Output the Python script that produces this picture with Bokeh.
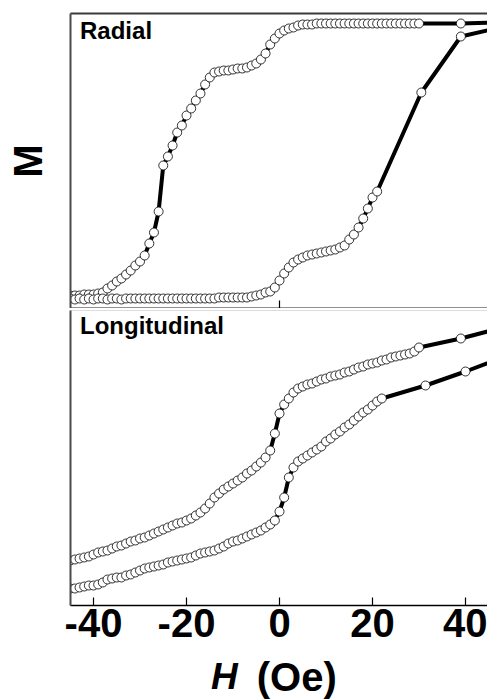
from bokeh.plotting import figure
from bokeh.layouts import column
from bokeh.models import Range1d, LinearAxis, FixedTicker, Label, CustomJSTickFormatter
from bokeh.core.properties import value
from bokeh.embed import file_html
from bokeh.resources import INLINE

# ---------------- data (M in arbitrary units, H in Oe) ----------------
H_steps = [-45, -44, -43, -42, -41, -40, -39, -38, -37, -36,
           -35, -34, -33, -32, -31, -30, -29, -28, -27, -26,
           -25, -24, -23, -22, -21, -20, -19, -18, -17, -16,
           -15, -14, -13, -12, -11, -10, -9, -8, -7, -6,
           -5, -4, -3, -2, -1, 0, 1, 2, 3, 4,
           5, 6, 7, 8, 9, 10, 11, 12, 13, 14,
           15, 16, 17, 18, 19, 20, 21, 22, 23, 24,
           25, 26, 27, 28, 29, 30]

# Radial, descending branch (-45 .. 30, then sparse high-field points)
rad_desc_H = H_steps + [39, 47.5]
rad_desc_M = [13, 13, 13, 14, 14, 14, 15, 16, 20, 23,
              27, 30, 34, 38, 43, 47, 53, 65, 76, 97,
              143, 152, 163, 176, 183, 193, 200, 208, 215, 224,
              231, 236, 237, 238, 238, 239, 240, 240, 241, 243,
              245, 249, 255, 264, 270, 275, 278, 280, 281, 283,
              284, 284, 284, 285, 285, 285, 285, 285, 285, 285,
              285, 285, 285, 285, 285, 285, 285, 285, 285, 285,
              285, 285, 285, 285, 285, 285,
              285, 286]

# Radial, ascending branch (-45 .. 21, then sparse)
rad_asc_H = H_steps[:67] + [30.5, 39, 47.5]
rad_asc_M = [10, 9, 10, 9, 10, 9, 10, 10, 9, 10,
             10, 9, 10, 10, 10, 10, 10, 10, 10, 10,
             10, 10, 10, 10, 10, 10, 10, 10, 10, 10,
             10, 10, 11, 11, 11, 11, 11, 11, 11, 12,
             13, 14, 16, 17, 21, 28, 35, 41, 46, 49,
             51, 53, 54, 55, 56, 57, 58, 59, 61, 63,
             69, 74, 81, 90, 100, 111, 117,
             216, 272, 281]

# Longitudinal, descending branch (-45 .. 30, then sparse)
lon_desc_H = H_steps + [39, 48]
lon_desc_M = [45, 46, 47, 48, 49, 51, 53, 54, 55, 57,
              59, 60, 62, 64, 65, 67, 68, 70, 72, 74,
              76, 78, 80, 82, 83, 85, 87, 90, 93, 97,
              102, 108, 112, 116, 119, 122, 125, 128, 132, 135,
              139, 143, 148, 155, 172, 192, 201, 207, 213, 217,
              219, 221, 222, 224, 226, 227, 229, 230, 231, 233,
              234, 236, 238, 239, 241, 242, 243, 245, 246, 248,
              249, 250, 251, 252, 254, 258,
              267, 278]

# Longitudinal, ascending branch (-45 .. 22, then sparse)
lon_asc_H = H_steps[:68] + [31.4, 40, 48.6]
lon_asc_M = [17, 17, 18, 19, 20, 20, 21, 23, 26, 27,
             28, 28, 30, 31, 33, 35, 37, 38, 39, 40,
             41, 43, 44, 45, 46, 47, 48, 50, 52, 53,
             54, 55, 57, 59, 62, 64, 65, 67, 69, 71,
             73, 75, 78, 81, 85, 94, 108, 128, 138, 144,
             147, 150, 153, 156, 159, 164, 167, 171, 174, 178,
             181, 185, 189, 193, 196, 200, 204, 207,
             220, 234, 249]

x_ticks = [-40, -20, 0, 20, 40]
panel_names = ["Radial", "Longitudinal"]
y_title = "M"
x_title_symbol = "H"
x_title_unit = "(Oe)"

FONT = "Liberation Sans"
X_RANGE = (-44.95, 44.73)
Y_RANGE = (0, 295)
W = 487
LEFT = 70


def make_fig(height, top, bottom, y_range=Y_RANGE):
    p = figure(width=W, height=height,
               x_range=Range1d(*X_RANGE), y_range=Range1d(*y_range),
               output_backend="svg", toolbar_location=None,
               x_axis_location=None, y_axis_location=None,
               min_border_left=LEFT, min_border_right=0,
               min_border_top=top, min_border_bottom=bottom)
    p.outline_line_color = None
    p.xgrid.grid_line_color = None
    p.ygrid.grid_line_color = None
    p.background_fill_color = "white"
    p.border_fill_color = "white"
    return p


def border_axis(p, side, color, width, ticks=(), labels=False):
    ax = LinearAxis(ticker=FixedTicker(ticks=list(ticks), minor_ticks=[]),
                    axis_line_color=color, axis_line_width=width,
                    major_tick_in=8, major_tick_out=0,
                    major_tick_line_color="black", major_tick_line_width=1.2,
                    minor_tick_line_color=None)
    if labels:
        ax.formatter = CustomJSTickFormatter(code="return tick.toFixed(0);")
        ax.major_label_text_font = FONT
        ax.major_label_text_font_style = "bold"
        ax.major_label_text_font_size = "40px"
        ax.major_label_text_color = "black"
        ax.major_label_standoff = 3
    else:
        ax.formatter = CustomJSTickFormatter(code="return '';")
        ax.major_label_text_font_size = "0px"
        ax.major_label_standoff = 0
    p.add_layout(ax, side)
    return ax


def draw(p, branches):
    for H, M in branches:
        p.line(H, M, line_color="black", line_width=4)
    for H, M in branches:
        p.scatter(H, M, size=9, fill_color="white", line_color="black",
                  line_width=0.8)


# ---------------- top panel: Radial ----------------
top = make_fig(308, 13, 0)
border_axis(top, "above", "#3a3a3a", 2)
lax = border_axis(top, "left", "#4a4a4a", 2)
lax.axis_label = y_title
lax.axis_label_text_font = FONT
lax.axis_label_text_font_style = "bold"
lax.axis_label_text_font_size = "40px"
lax.axis_label_text_color = "black"
lax.axis_label_standoff = 21
border_axis(top, "below", "#222222", 2, ticks=[0])
draw(top, [(rad_desc_H, rad_desc_M), (rad_asc_H, rad_asc_M)])
top.add_layout(Label(x=-42.9, y=278, text=panel_names[0],
                     text_font=FONT, text_font_style="bold",
                     text_font_size="24px", text_color="black",
                     text_align="left", text_baseline="alphabetic"))

# ---------------- bottom panel: Longitudinal ----------------
bot = make_fig(347, 2, 50)
border_axis(bot, "above", "#dddddd", 1)
border_axis(bot, "left", "#4a4a4a", 2)
border_axis(bot, "below", "black", 1.5, ticks=x_ticks, labels=True)
draw(bot, [(lon_desc_H, lon_desc_M), (lon_asc_H, lon_asc_M)])
bot.add_layout(Label(x=-42.9, y=280, text=panel_names[1],
                     text_font=FONT, text_font_style="bold",
                     text_font_size="24px", text_color="black",
                     text_align="left", text_baseline="alphabetic"))

# ---------------- x-axis title strip ----------------
ttl = make_fig(45, 0, 0, y_range=(0, 45))
ttl.text(x=[-9.0], y=[24], text=[x_title_symbol],
         text_font=value(FONT), text_font_style="bold italic",
         text_font_size="37px", text_color="black",
         text_align="right", text_baseline="alphabetic")
ttl.text(x=[-4.9], y=[24], text=[x_title_unit],
         text_font=value(FONT), text_font_style="bold",
         text_font_size="40px", text_color="black",
         text_align="left", text_baseline="alphabetic")

layout = column(top, bot, ttl, spacing=0)
open("out.html", "w").write(file_html(layout, INLINE))
